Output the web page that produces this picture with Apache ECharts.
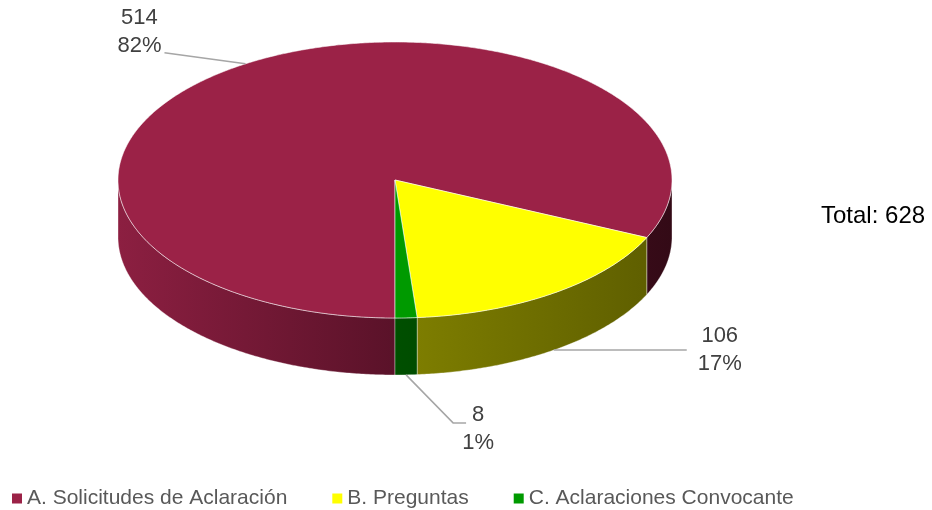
<!DOCTYPE html>
<html>
<head>
<meta charset="utf-8">
<script src="https://cdn.jsdelivr.net/npm/echarts@6/dist/echarts.min.js"></script>
<style>
  html, body { margin: 0; padding: 0; background: #fff; }
  #chart { width: 932px; height: 510px; }
</style>
</head>
<body>
<div id="chart"></div>
<script>
// datos
var categories = ['A. Solicitudes de Aclaración', 'B. Preguntas', 'C. Aclaraciones Convocante'];
var values = [514, 106, 8];
var topColors = ['#9b2247', '#ffff00', '#009a00'];
var sideColors = [
  ['#8c1f41', '#5a1229', '#330a16'],
  ['#9e9e00', '#808000', '#5c5c00'],
  ['#007000', '#004f00', '#003400']
];
// desplazamientos de las etiquetas (relativos al punto de anclaje)
var labelLayout = [
  { line: [[-81, -11]], text: [-106, -32] },
  { line: [[133, 0]], text: [166, 0] },
  { line: [[47, 48], [60, 48]], text: [72, 54] }
];

var total = values.reduce(function (a, b) { return a + b; }, 0);

// geometria del pastel 3D
var cx = 395, cy = 180, rx = 277, ry = 138, depth = 57;
var START = 180; // grados, sentido horario desde las 12

function pt(deg, dy) {
  var r = deg * Math.PI / 180;
  return [cx + rx * Math.sin(r), cy - ry * Math.cos(r) + (dy || 0)];
}
function arc(a0, a1, dy) {
  var n = Math.max(2, Math.ceil((a1 - a0) / 0.5));
  var pts = [];
  for (var k = 0; k <= n; k++) pts.push(pt(a0 + (a1 - a0) * k / n, dy));
  return pts;
}

function renderSlice(i) {
  return function (params, api) {
    var before = 0;
    for (var j = 0; j < i; j++) before += values[j];
    var a0 = START + before / total * 360;
    var a1 = a0 + api.value(0) / total * 360;
    var children = [];

    // caras laterales visibles (mitad frontal)
    [0, 360].forEach(function (k) {
      var lo = Math.max(a0, 90 + k), hi = Math.min(a1, 270 + k);
      if (hi > lo) {
        var upper = arc(lo, hi, 0);
        var lower = arc(lo, hi, depth).reverse();
        children.push({
          type: 'polygon',
          z2: 1,
          shape: { points: upper.concat(lower) },
          style: {
            fill: {
              type: 'linear', x: cx - rx, y: 0, x2: cx + rx, y2: 0, global: true,
              colorStops: [
                { offset: 0, color: sideColors[i][0] },
                { offset: 0.5, color: sideColors[i][1] },
                { offset: 1, color: sideColors[i][2] }
              ]
            },
            stroke: 'rgba(255,255,255,0.45)',
            lineWidth: 0.8
          }
        });
      }
    });

    // cara superior
    children.push({
      type: 'polygon',
      z2: 2,
      shape: { points: [[cx, cy]].concat(arc(a0, a1, 0)) },
      style: { fill: topColors[i], stroke: 'rgba(255,255,255,0.55)', lineWidth: 1 }
    });

    // etiqueta
    var mid = (a0 + a1) / 2;
    var m = ((mid % 360) + 360) % 360;
    var anchor = (m > 90 && m < 270) ? pt(mid, depth) : pt(mid, 0);
    var lay = labelLayout[i];
    var pts = [anchor].concat(lay.line.map(function (d) { return [anchor[0] + d[0], anchor[1] + d[1]]; }));
    children.push({
      type: 'polyline',
      z2: 3,
      shape: { points: pts },
      style: { stroke: '#a6a6a6', lineWidth: 1.5, fill: null }
    });
    children.push({
      type: 'text',
      z2: 3,
      x: anchor[0] + lay.text[0],
      y: anchor[1] + lay.text[1],
      style: {
        text: api.value(0) + '\n' + Math.round(api.value(0) / total * 100) + '%',
        fill: '#404040',
        fontSize: 22,
        fontFamily: 'Liberation Sans, Arial, sans-serif',
        align: 'center',
        verticalAlign: 'middle',
        lineHeight: 28
      }
    });

    return { type: 'group', children: children };
  };
}

var myChart = echarts.init(document.getElementById('chart'));

var option = {
  animation: false,
  title: {
    text: 'Total: ' + total,
    left: 816,
    top: 199,
    textStyle: { fontSize: 24, fontWeight: 'normal', color: '#000', fontFamily: 'Liberation Sans, Arial, sans-serif' }
  },
  legend: {
    data: categories,
    left: 7,
    top: 488,
    padding: [0, 5],
    icon: 'rect',
    itemWidth: 10,
    itemHeight: 10,
    itemGap: 45,
    textStyle: { fontSize: 21, color: '#595959', fontFamily: 'Liberation Sans, Arial, sans-serif' }
  },
  series: categories.map(function (name, i) {
    return {
      name: name,
      type: 'custom',
      coordinateSystem: 'none',
      itemStyle: { color: topColors[i] },
      renderItem: renderSlice(i),
      data: [values[i]]
    };
  })
};

myChart.setOption(option);
</script>
</body>
</html>
